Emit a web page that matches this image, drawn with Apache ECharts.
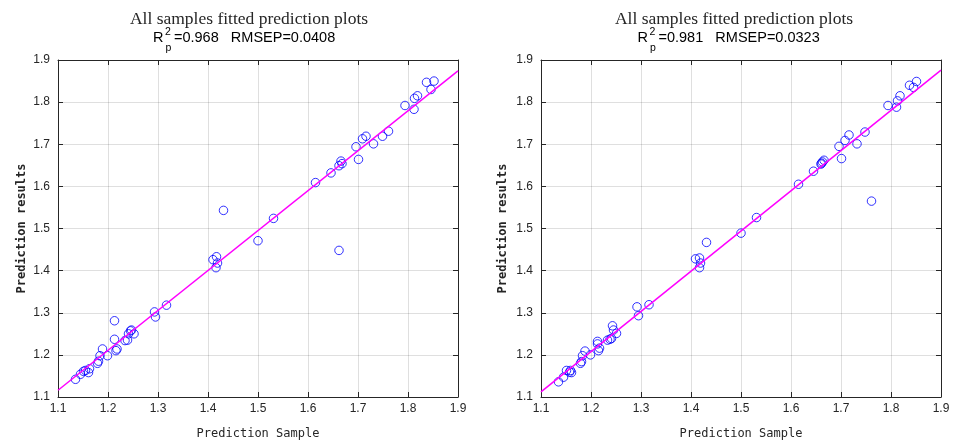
<!DOCTYPE html>
<html>
<head>
<meta charset="utf-8">
<script src="https://cdn.jsdelivr.net/npm/echarts@6/dist/echarts.min.js"></script>
<style>
  html, body { margin: 0; padding: 0; background: #fff; }
  #chart { width: 955px; height: 445px; }
</style>
</head>
<body>
<div id="chart"></div>
<script>
// values
const leftActual = [1.135, 1.145, 1.151, 1.155, 1.161, 1.163, 1.179, 1.181, 1.184, 1.189, 1.199,
  1.213, 1.213, 1.216, 1.218, 1.234, 1.239, 1.241, 1.245, 1.247, 1.252, 1.293, 1.295, 1.317,
  1.410, 1.417, 1.419, 1.416, 1.431, 1.500, 1.531, 1.615, 1.646, 1.662, 1.666, 1.668, 1.662,
  1.696, 1.701, 1.709, 1.716, 1.731, 1.749, 1.761, 1.794, 1.812, 1.813, 1.819, 1.837, 1.846, 1.852];
const leftPred = [1.142, 1.154, 1.161, 1.163, 1.158, 1.167, 1.180, 1.185, 1.198, 1.214, 1.198,
  1.281, 1.237, 1.210, 1.214, 1.234, 1.235, 1.250, 1.257, 1.259, 1.250, 1.302, 1.290, 1.318,
  1.426, 1.433, 1.418, 1.407, 1.543, 1.471, 1.524, 1.609, 1.632, 1.649, 1.660, 1.654, 1.448,
  1.694, 1.664, 1.713, 1.719, 1.701, 1.719, 1.731, 1.792, 1.783, 1.809, 1.815, 1.847, 1.830, 1.850];

const rightActual = [1.135, 1.145, 1.151, 1.157, 1.159, 1.161, 1.179, 1.181, 1.183, 1.188, 1.199,
  1.213, 1.213, 1.215, 1.217, 1.233, 1.238, 1.241, 1.243, 1.245, 1.251, 1.292, 1.295, 1.316,
  1.409, 1.417, 1.419, 1.417, 1.431, 1.500, 1.531, 1.615, 1.645, 1.660, 1.661, 1.663, 1.666,
  1.761, 1.696, 1.701, 1.708, 1.716, 1.732, 1.748, 1.794, 1.811, 1.813, 1.818, 1.837, 1.845, 1.851];
const rightPred = [1.136, 1.147, 1.163, 1.159, 1.163, 1.158, 1.180, 1.184, 1.198, 1.209, 1.200,
  1.232, 1.226, 1.210, 1.216, 1.235, 1.237, 1.239, 1.269, 1.259, 1.251, 1.314, 1.293, 1.319,
  1.428, 1.430, 1.418, 1.407, 1.467, 1.489, 1.526, 1.605, 1.636, 1.653, 1.655, 1.658, 1.662,
  1.565, 1.695, 1.666, 1.709, 1.722, 1.701, 1.729, 1.792, 1.788, 1.803, 1.815, 1.840, 1.835, 1.849];

// fitted line, value at x = 1.1 and x = 1.9
const fitX = [1.1, 1.9];
const fitLeftY = [1.116, 1.874];
const fitRightY = [1.112, 1.876];

const axisMin = 1.1, axisMax = 1.9, axisStep = 0.1;
const panelTitle = 'All samples fitted prediction plots';
const statsLeft = { r2: '0.968', rmsep: '0.0408' };
const statsRight = { r2: '0.981', rmsep: '0.0323' };

const frameColor = '#262626';
const gridColor = 'rgba(38,38,38,0.15)';

function pairs(xs, ys) {
  return xs.map((x, i) => [x, ys[i]]);
}

function mainAxis(gridIndex, position, name, nameGap) {
  return {
    type: 'value', gridIndex: gridIndex, position: position,
    min: axisMin, max: axisMax, interval: axisStep,
    name: name, nameLocation: 'middle', nameGap: nameGap,
    nameTextStyle: {
      fontFamily: '"DejaVu Sans Mono", monospace', fontSize: 12,
      fontWeight: position === 'left' ? 'bold' : 'normal', color: frameColor
    },
    axisLine: { show: true, lineStyle: { color: frameColor, width: 1 } },
    axisTick: { show: true, inside: true, length: 5, lineStyle: { color: frameColor } },
    axisLabel: {
      color: frameColor, fontFamily: '"Liberation Sans", Arial', fontSize: 12,
      margin: position === 'left' ? 8 : 6,
      formatter: v => v.toFixed(1)
    },
    splitLine: { show: true, lineStyle: { color: gridColor, width: 1 } }
  };
}

function frameAxis(gridIndex, position) {
  return {
    type: 'value', gridIndex: gridIndex, position: position,
    min: axisMin, max: axisMax, interval: axisStep,
    axisLine: { show: true, lineStyle: { color: frameColor, width: 1 } },
    axisTick: { show: true, inside: true, length: 5, lineStyle: { color: frameColor } },
    axisLabel: { show: false },
    splitLine: { show: false }
  };
}

function titleTexts(cx, x0, stats) {
  const sans = '"Liberation Sans", Arial, sans-serif';
  return [
    { type: 'text', x: cx, y: 19, style: { text: panelTitle, align: 'center', textAlign: 'center',
      verticalAlign: 'middle', textVerticalAlign: 'middle', fill: frameColor,
      font: '17.5px "Liberation Serif", "Times New Roman", serif' } },
    { type: 'text', x: x0, y: 38, style: { text: 'R', verticalAlign: 'middle', textVerticalAlign: 'middle',
      fill: '#000', font: '14.5px ' + sans } },
    { type: 'text', x: x0 + 12, y: 32, style: { text: '2', verticalAlign: 'middle', textVerticalAlign: 'middle',
      fill: '#000', font: '10.5px ' + sans } },
    { type: 'text', x: x0 + 12.5, y: 48, style: { text: 'p', verticalAlign: 'middle', textVerticalAlign: 'middle',
      fill: '#000', font: '10.5px ' + sans } },
    { type: 'text', x: x0 + 21, y: 38, style: { text: '=' + stats.r2 + '   RMSEP=' + stats.rmsep,
      verticalAlign: 'middle', textVerticalAlign: 'middle', fill: '#000', font: '14.5px ' + sans } }
  ];
}

function scatterSeries(xi, yi, xs, ys) {
  return {
    type: 'scatter', xAxisIndex: xi, yAxisIndex: yi,
    data: pairs(xs, ys), symbol: 'circle', symbolSize: 8.5,
    itemStyle: { color: 'rgba(0,0,0,0)', borderColor: '#0000ff', borderWidth: 1 },
    z: 3, silent: true
  };
}

function fitSeries(xi, yi, ys) {
  return {
    type: 'line', xAxisIndex: xi, yAxisIndex: yi,
    data: pairs(fitX, ys), symbol: 'none',
    lineStyle: { color: '#ff00ff', width: 1.5 },
    z: 4, silent: true
  };
}

let myChart = echarts.init(document.getElementById('chart'));
let option = {
  animation: false,
  backgroundColor: '#ffffff',
  grid: [
    { left: 58, top: 60, width: 400, height: 340 },
    { left: 541, top: 60, width: 400, height: 340 }
  ],
  xAxis: [
    mainAxis(0, 'bottom', 'Prediction Sample', 31),
    frameAxis(0, 'top'),
    mainAxis(1, 'bottom', 'Prediction Sample', 31),
    frameAxis(1, 'top')
  ],
  yAxis: [
    mainAxis(0, 'left', 'Prediction results', 30),
    frameAxis(0, 'right'),
    mainAxis(1, 'left', 'Prediction results', 32),
    frameAxis(1, 'right')
  ],
  graphic: titleTexts(249, 153, statsLeft).concat(titleTexts(734, 637.5, statsRight)),
  series: [
    scatterSeries(0, 0, leftActual, leftPred),
    fitSeries(0, 0, fitLeftY),
    scatterSeries(2, 2, rightActual, rightPred),
    fitSeries(2, 2, fitRightY)
  ]
};
myChart.setOption(option);
</script>
</body>
</html>
